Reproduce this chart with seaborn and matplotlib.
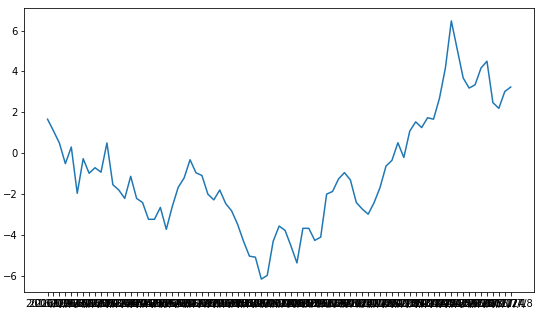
import matplotlib
matplotlib.use("Agg")
import matplotlib.pyplot as plt
import seaborn as sns
import pandas as pd

values = [
    1.67, 1.1, 0.5, -0.5, 0.31, -1.95, -0.26, -0.97, -0.7, -0.92,
    0.51, -1.53, -1.79, -2.2, -1.12, -2.2, -2.4, -3.22, -3.22, -2.64,
    -3.71, -2.6, -1.66, -1.2, -0.31, -0.95, -1.08, -1.99, -2.27, -1.79,
    -2.45, -2.81, -3.46, -4.29, -5.02, -5.07, -6.14, -5.96, -4.29, -3.55,
    -3.76, -4.53, -5.35, -3.66, -3.66, -4.25, -4.09, -1.99, -1.86, -1.25,
    -0.94, -1.3, -2.4, -2.72, -2.97, -2.4, -1.66, -0.62, -0.34, 0.52,
    -0.2, 1.09, 1.54, 1.26, 1.74, 1.67, 2.69, 4.17, 6.47, 5.07,
    3.68, 3.19, 3.35, 4.17, 4.5, 2.48, 2.2, 3.02, 3.24,
]

dates = pd.date_range(end="2017-07-08", periods=len(values), freq="7D")
labels = [f"{d.year}/{d.month}/{d.day}" for d in dates]
positions = list(range(len(values)))

df = pd.DataFrame({"pos": positions, "value": values})

fig = plt.figure(figsize=(542 / 72, 320 / 72), dpi=72)
ax = fig.add_axes([0.045, 0.0875, 0.94, 0.8875])
sns.lineplot(data=df, x="pos", y="value", ax=ax, color="#1f77b4", linewidth=1.5, sort=False)
ax.set_xticks(positions)
ax.set_xticklabels(labels, fontsize=10)
ax.tick_params(axis="y", labelsize=10)
ax.set_yticks([-6, -4, -2, 0, 2, 4, 6])
ax.set_xlabel("")
ax.set_ylabel("")
ax.margins(x=0.05, y=0.05)
fig.savefig("out.png", dpi=72)
